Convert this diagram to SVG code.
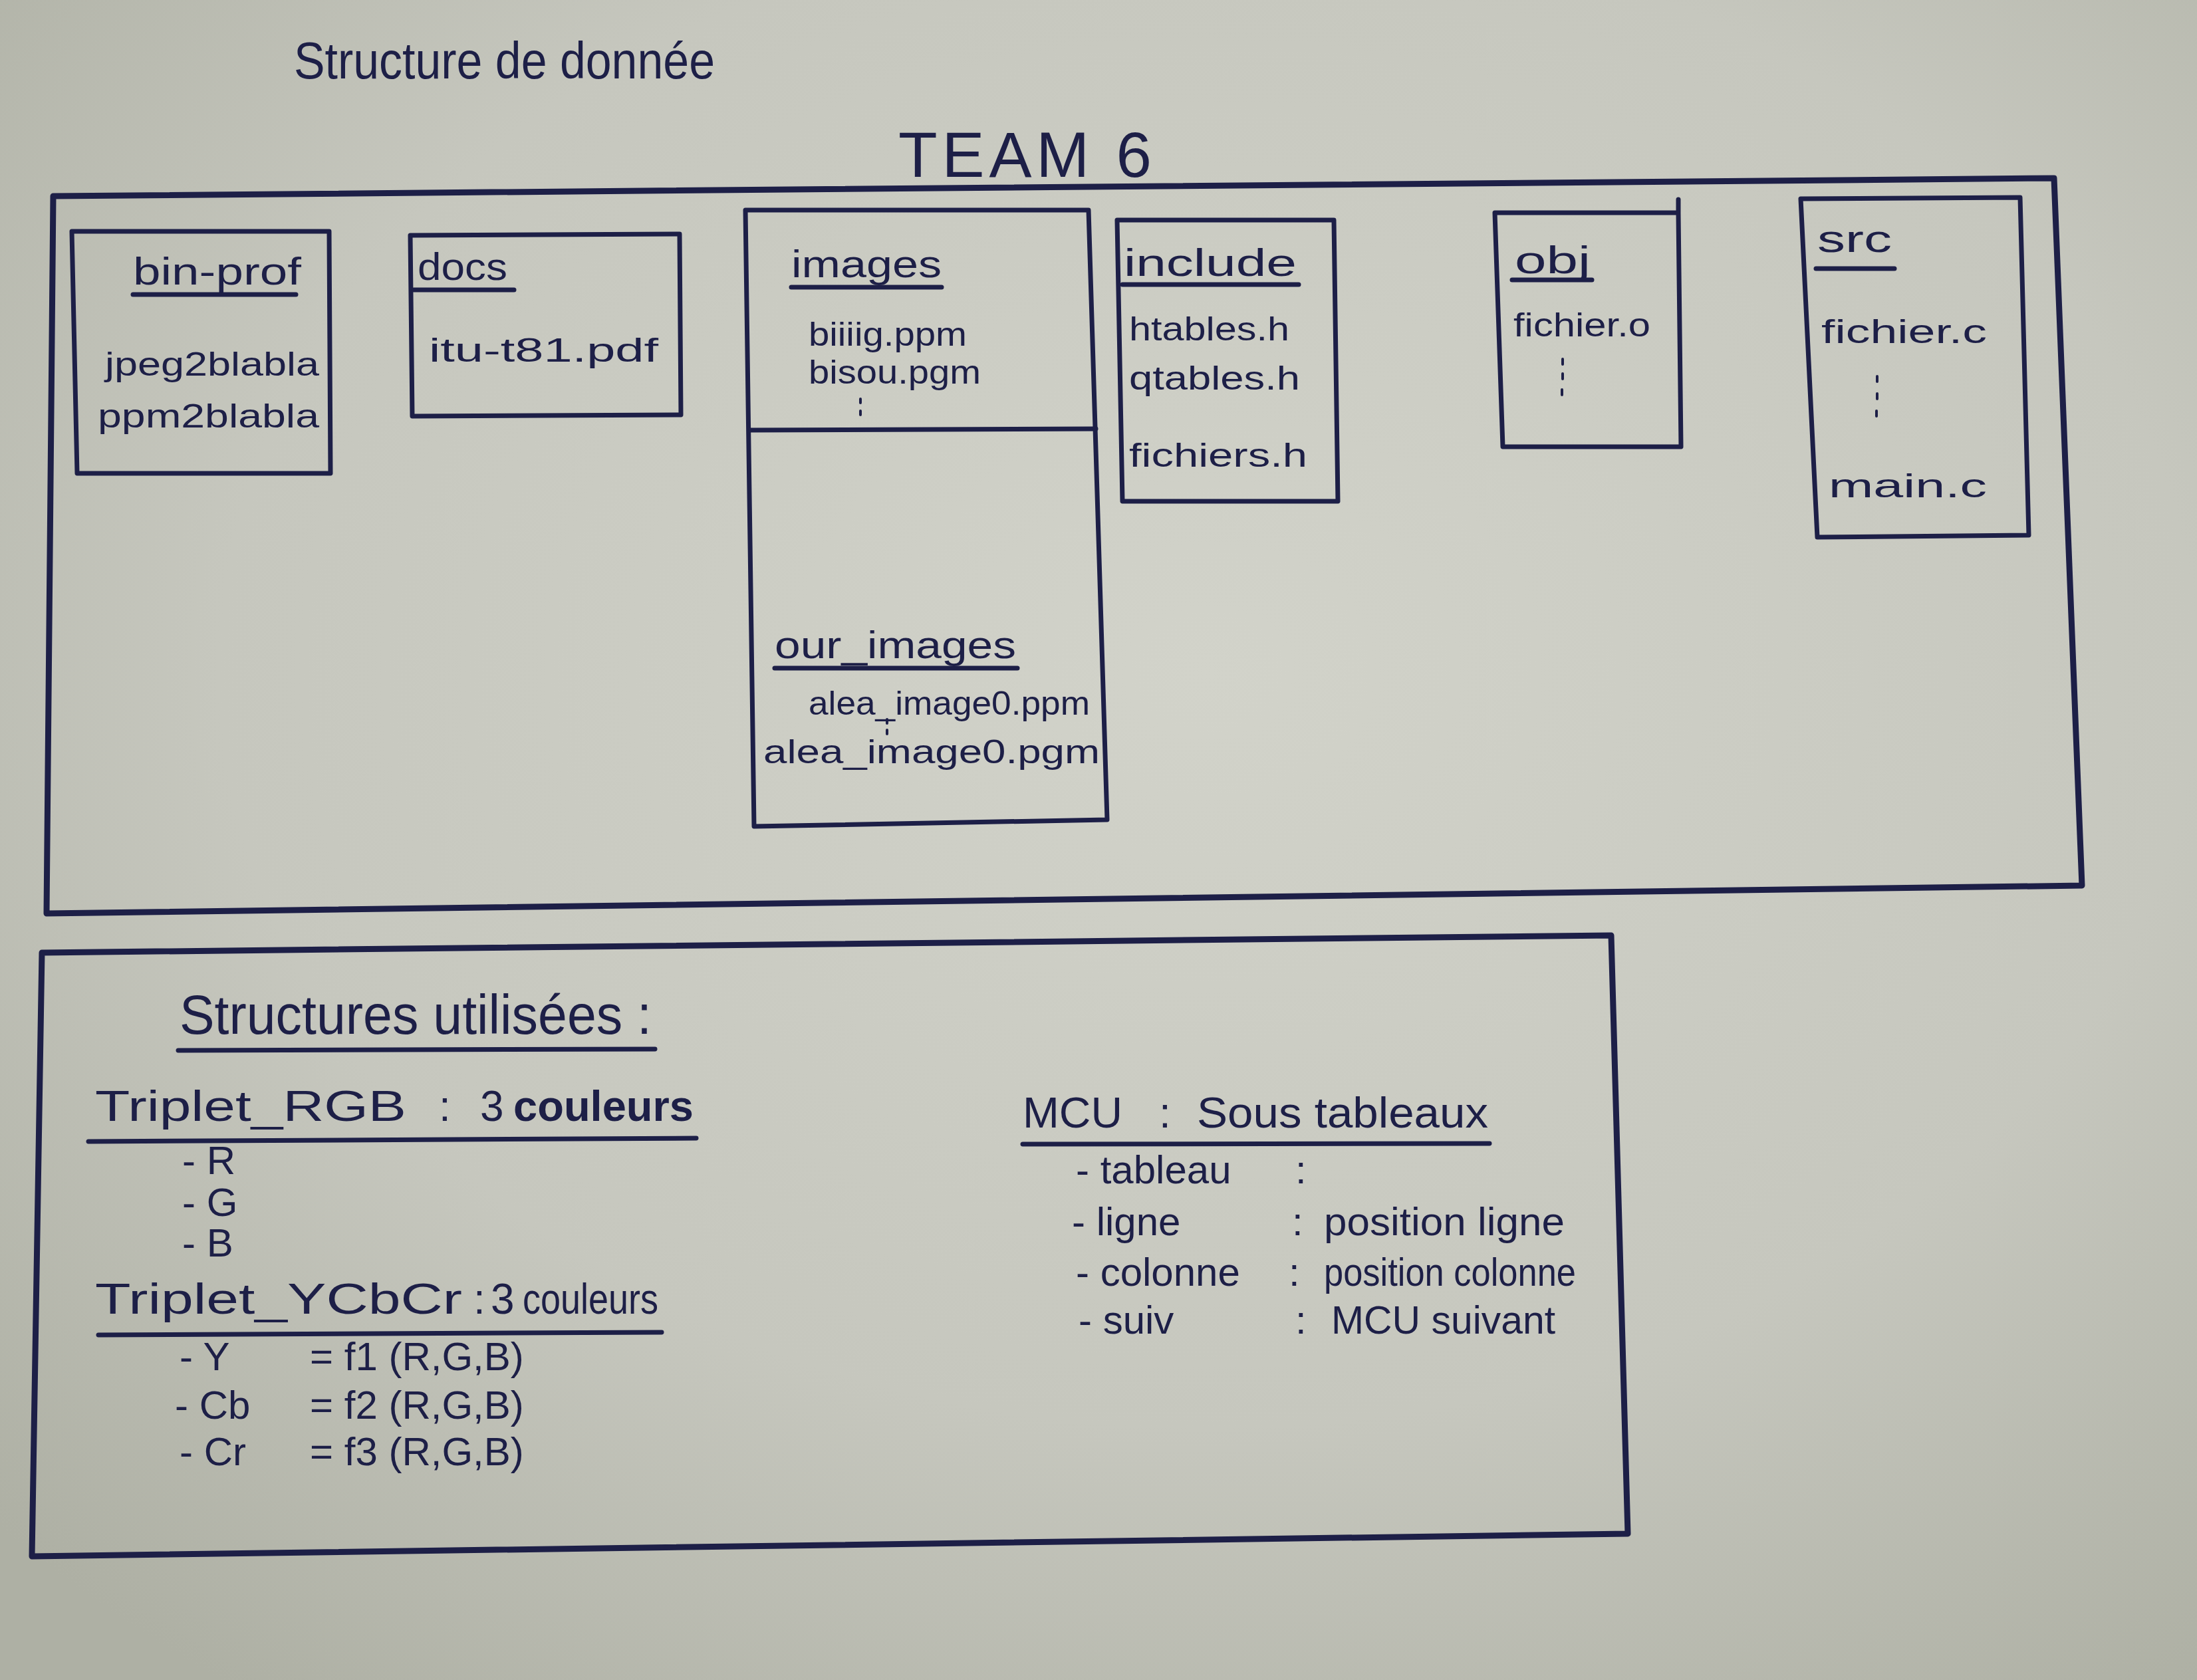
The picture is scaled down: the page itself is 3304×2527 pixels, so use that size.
<svg xmlns="http://www.w3.org/2000/svg" width="3304" height="2527" viewBox="0 0 3304 2527">
  <defs>
    <radialGradient id="paper" cx="0.55" cy="0.4" r="0.75">
      <stop offset="0" stop-color="#d2d3ca"/>
      <stop offset="0.6" stop-color="#c6c7be"/>
      <stop offset="1" stop-color="#aeb0a4"/>
    </radialGradient>
    <style>
      .ink { fill: none; stroke: #1d1f47; stroke-linecap: round; stroke-linejoin: round; }
      .frame { stroke-width: 9; }
      .box { stroke-width: 7; }
      .ul { stroke-width: 7; }
      .dots { stroke-width: 4; }
      text { fill: #1d1f47; font-family: "Liberation Sans", "DejaVu Sans", sans-serif; }
      .title { font-size: 78px; }
      .team { font-size: 96px; }
      .head { font-size: 58px; }
      .item { font-size: 50px; }
      .big { font-size: 84px; }
      .sub { font-size: 64px; }
      .line { font-size: 60px; }
    </style>
  </defs>

  <rect width="3304" height="2527" fill="url(#paper)"/>

  <!-- page heading -->
  <g id="title">
    <text class="title" x="442" y="118" textLength="633" lengthAdjust="spacingAndGlyphs">Structure de donnée</text>
  </g>

  <!-- repository root -->
  <g id="team6">
    <text class="team" x="1351" y="266" textLength="381" lengthAdjust="spacing">TEAM 6</text>
    <path class="ink frame" d="M80,295 L3089,268 L3131,1332 L70,1374 Z"/>
  </g>

  <g id="bin-prof">
    <path class="ink box" d="M108,348 L495,348 L497,712 L116,712 Z"/>
    <text class="head" x="200" y="428" textLength="253" lengthAdjust="spacingAndGlyphs">bin-prof</text>
    <line class="ink ul" x1="200" y1="443" x2="445" y2="443"/>
    <text class="item" x="158" y="565" textLength="322" lengthAdjust="spacingAndGlyphs">jpeg2blabla</text>
    <text class="item" x="147" y="643" textLength="333" lengthAdjust="spacingAndGlyphs">ppm2blabla</text>
  </g>

  <g id="docs">
    <path class="ink box" d="M617,354 L1022,352 L1024,624 L620,626 Z"/>
    <text class="head" x="628" y="421" textLength="135" lengthAdjust="spacingAndGlyphs">docs</text>
    <line class="ink ul" x1="622" y1="436" x2="773" y2="436"/>
    <text class="item" x="645" y="544" textLength="345" lengthAdjust="spacingAndGlyphs">itu-t81.pdf</text>
  </g>

  <g id="images">
    <path class="ink box" d="M1121,316 L1637,316 L1665,1233 L1134,1243 Z"/>
    <line class="ink box" x1="1129" y1="647" x2="1648" y2="645"/>
    <text class="head" x="1190" y="417" textLength="226" lengthAdjust="spacingAndGlyphs">images</text>
    <line class="ink ul" x1="1190" y1="432" x2="1416" y2="432"/>
    <text class="item" x="1216" y="520" textLength="238" lengthAdjust="spacingAndGlyphs">biiiig.ppm</text>
    <text class="item" x="1216" y="577" textLength="259" lengthAdjust="spacingAndGlyphs">bisou.pgm</text>
    <path class="ink dots" d="M1294,600 L1294,606 M1294,618 L1294,624"/>
    <text class="head" x="1165" y="990" textLength="363" lengthAdjust="spacingAndGlyphs">our_images</text>
    <line class="ink ul" x1="1165" y1="1005" x2="1530" y2="1005"/>
    <text class="item" x="1216" y="1075" textLength="423" lengthAdjust="spacingAndGlyphs">alea_image0.ppm</text>
    <path class="ink dots" d="M1334,1082 L1334,1088 M1334,1098 L1334,1104"/>
    <text class="item" x="1148" y="1148" textLength="506" lengthAdjust="spacingAndGlyphs">alea_image0.pgm</text>
  </g>

  <g id="include">
    <path class="ink box" d="M1680,331 L2006,331 L2012,754 L1688,754 Z"/>
    <text class="head" x="1690" y="415" textLength="260" lengthAdjust="spacingAndGlyphs">include</text>
    <line class="ink ul" x1="1688" y1="428" x2="1953" y2="428"/>
    <text class="item" x="1698" y="512" textLength="241" lengthAdjust="spacingAndGlyphs">htables.h</text>
    <text class="item" x="1698" y="586" textLength="257" lengthAdjust="spacingAndGlyphs">qtables.h</text>
    <text class="item" x="1698" y="702" textLength="268" lengthAdjust="spacingAndGlyphs">fichiers.h</text>
  </g>

  <g id="obj">
    <path class="ink box" d="M2248,320 L2524,320 L2528,672 L2260,672 Z M2524,300 L2524,320"/>
    <text class="head" x="2278" y="411" textLength="114" lengthAdjust="spacingAndGlyphs">obj</text>
    <line class="ink ul" x1="2274" y1="421" x2="2394" y2="421"/>
    <text class="item" x="2276" y="506" textLength="206" lengthAdjust="spacingAndGlyphs">fichier.o</text>
    <path class="ink dots" d="M2350,540 L2350,548 M2350,562 L2350,570 M2349,586 L2349,594"/>
  </g>

  <g id="src">
    <path class="ink box" d="M2708,299 L3038,297 L3051,805 L2733,808 Z"/>
    <text class="head" x="2733" y="379" textLength="112" lengthAdjust="spacingAndGlyphs">src</text>
    <line class="ink ul" x1="2731" y1="404" x2="2849" y2="404"/>
    <text class="item" x="2739" y="516" textLength="249" lengthAdjust="spacingAndGlyphs">fichier.c</text>
    <path class="ink dots" d="M2823,566 L2823,574 M2823,592 L2823,600 M2822,618 L2822,626"/>
    <text class="item" x="2750" y="748" textLength="238" lengthAdjust="spacingAndGlyphs">main.c</text>
  </g>

  <!-- data structures in use -->
  <g id="structures">
    <path class="ink frame" d="M63,1433 L2423,1407 L2448,2307 L48,2341 Z"/>
    <text class="big" x="270" y="1555" textLength="710" lengthAdjust="spacingAndGlyphs">Structures utilisées :</text>
    <line class="ink ul" x1="268" y1="1580" x2="985" y2="1578"/>

    <g id="triplet-rgb">
      <text class="sub" x="143" y="1686">
        <tspan textLength="468" lengthAdjust="spacingAndGlyphs">Triplet_RGB</tspan>
        <tspan x="660">:</tspan>
        <tspan x="722">3</tspan>
        <tspan x="772" font-weight="bold" textLength="271" lengthAdjust="spacingAndGlyphs">couleurs</tspan>
      </text>
      <line class="ink ul" x1="133" y1="1717" x2="1047" y2="1712"/>
      <text class="line" x="274" y="1766">- R</text>
      <text class="line" x="274" y="1829">- G</text>
      <text class="line" x="274" y="1890">- B</text>
    </g>

    <g id="triplet-ycbcr">
      <text class="sub" x="143" y="1976">
        <tspan textLength="552" lengthAdjust="spacingAndGlyphs">Triplet_YCbCr</tspan>
        <tspan x="712">:</tspan>
        <tspan x="738">3</tspan>
        <tspan x="786" textLength="204" lengthAdjust="spacingAndGlyphs">couleurs</tspan>
      </text>
      <line class="ink ul" x1="148" y1="2008" x2="995" y2="2004"/>
      <text class="line" x="270" y="2061">- Y<tspan x="466">= f1 (R,G,B)</tspan></text>
      <text class="line" x="263" y="2134">- Cb<tspan x="466">= f2 (R,G,B)</tspan></text>
      <text class="line" x="270" y="2204">- Cr<tspan x="466">= f3 (R,G,B)</tspan></text>
    </g>

    <g id="mcu">
      <text class="sub" x="1538" y="1696">
        <tspan textLength="150" lengthAdjust="spacingAndGlyphs">MCU</tspan>
        <tspan x="1743">:</tspan>
        <tspan x="1800" textLength="438" lengthAdjust="spacingAndGlyphs">Sous tableaux</tspan>
      </text>
      <line class="ink ul" x1="1538" y1="1721" x2="2240" y2="1720"/>
      <text class="line" x="1618" y="1780">- tableau<tspan x="1948">:</tspan></text>
      <text class="line" x="1612" y="1858">- ligne<tspan x="1943">:</tspan><tspan x="1991" textLength="362" lengthAdjust="spacingAndGlyphs">position ligne</tspan></text>
      <text class="line" x="1618" y="1934">- colonne<tspan x="1938">:</tspan><tspan x="1991" textLength="379" lengthAdjust="spacingAndGlyphs">position colonne</tspan></text>
      <text class="line" x="1622" y="2006">- suiv<tspan x="1948">:</tspan><tspan x="2002" textLength="337" lengthAdjust="spacingAndGlyphs">MCU suivant</tspan></text>
    </g>
  </g>

  <g id="connectors"/>
</svg>
